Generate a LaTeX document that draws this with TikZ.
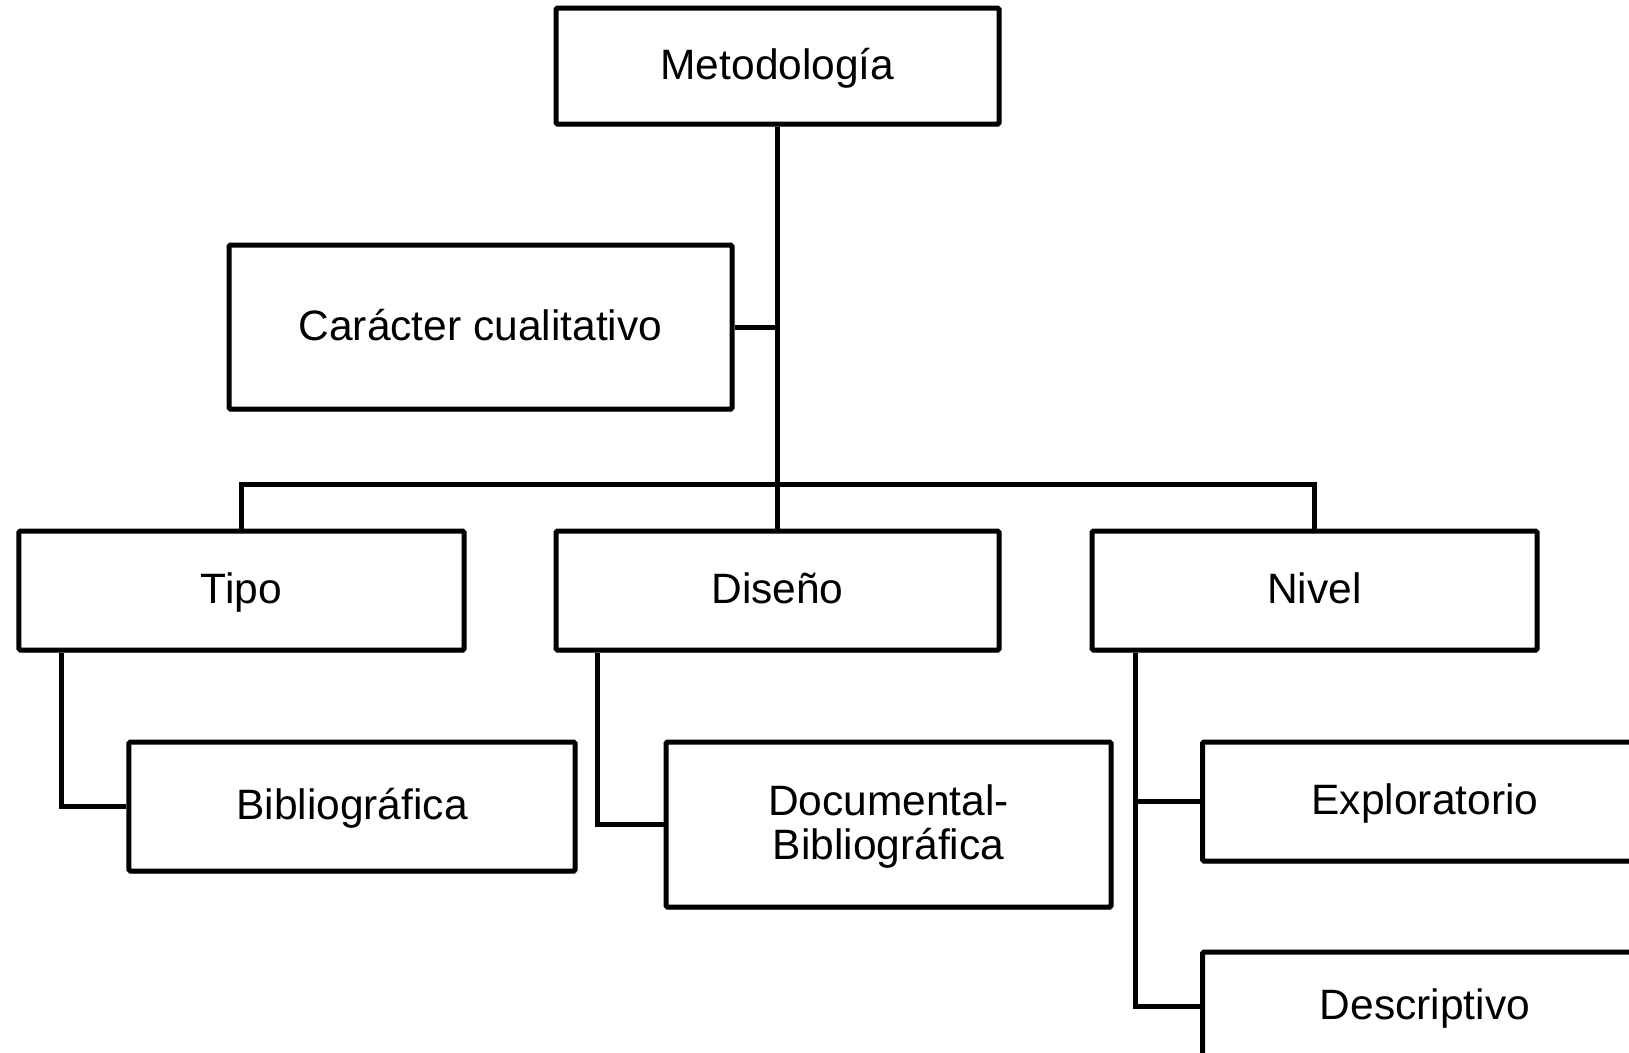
\documentclass[tikz,border=0pt]{standalone}
\usepackage{fontspec}
\setmainfont{Liberation Sans}
\usepackage{tikz}
\usetikzlibrary{
        positioning,
        shadows
    }
\tikzset{box/.style={draw,line width=5bp,fill=white,rounded corners=1.5bp,
        inner sep=0pt,align=center,text height=34bp,text depth=8bp,
        font=\fontsize{42.5bp}{44bp}\selectfont,
        drop shadow={shadow xshift=2bp,shadow yshift=-2.5bp,fill=black,opacity=0.25}}}
\tikzset{link/.style={line width=5bp}}

\begin{document}
\begin{tikzpicture}[x=1bp,y=-1bp]
        \useasboundingbox (0,0) rectangle (1629,1052);

        \node[box,minimum width=443bp,minimum height=116bp] (meto)   at (777.5,66)   {Metodología};
        \node[box,minimum width=503bp,minimum height=164bp] (carac)  at (480.5,327)  {Carácter cualitativo};
        \node[box,minimum width=445bp,minimum height=119bp] (tipo)   at (241.5,590.5) {Tipo};
        \node[box,minimum width=443bp,minimum height=119bp] (diseno) at (777.5,590.5) {Diseño};
        \node[box,minimum width=445bp,minimum height=119bp] (nivel)  at (1314.5,590.5) {Nivel};
        \node[box,minimum width=446bp,minimum height=129bp] (biblio) at (352,806.5)  {Bibliográfica};
        \node[box,minimum width=445bp,minimum height=165bp,text height=78bp] (docu) at (888.5,824.5) {Documental-\\Bibliográfica};
        \node[box,minimum width=445bp,minimum height=119bp] (explo)  at (1425,801.5) {Exploratorio};
        \node[box,minimum width=445bp,minimum height=108bp] (descr)  at (1425,1006)  {Descriptivo};

        \coordinate (bar) at (777.5,484);

        \draw[link] (meto.south) -- (diseno.north);
        \draw[link] (carac.east) -- (carac.east -| meto.south);
        \draw[link] (tipo.north) |- (bar) -| (nivel.north);
        \draw[link] ([xshift=45bp]tipo.south west) |- (biblio.west);
        \draw[link] ([xshift=44bp]diseno.south west) |- (docu.west);
        \draw[link] ([xshift=46bp]nivel.south west) |- (explo.west);
        \draw[link] ([xshift=46bp]nivel.south west) |- (descr.west);
\end{tikzpicture}
\end{document}
